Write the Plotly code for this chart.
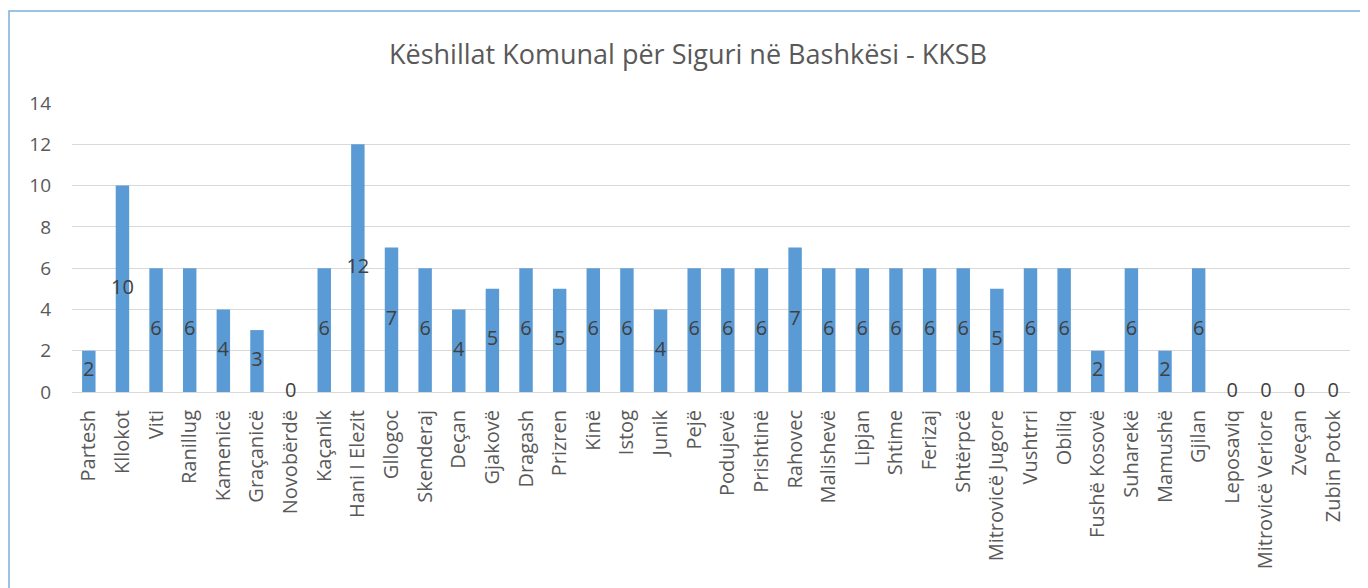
import plotly.graph_objects as go

categories = ["Partesh", "Kllokot", "Viti", "Ranillug", "Kamenicë", "Graçanicë", "Novobërdë",
              "Kaçanik", "Hani I Elezit", "Gllogoc", "Skenderaj", "Deçan", "Gjakovë", "Dragash",
              "Prizren", "Kinë", "Istog", "Junik", "Pejë", "Podujevë", "Prishtinë", "Rahovec",
              "Malishevë", "Lipjan", "Shtime", "Ferizaj", "Shtërpcë", "Mitrovicë Jugore",
              "Vushtrri", "Obiliq", "Fushë Kosovë", "Suharekë", "Mamushë", "Gjilan",
              "Leposaviq", "Mitrovicë Veriore", "Zveçan", "Zubin Potok"]
values = [2, 10, 6, 6, 4, 3, 0, 6, 12, 7, 6, 4, 5, 6, 5, 6, 6, 4, 6, 6, 6, 7,
          6, 6, 6, 6, 6, 5, 6, 6, 2, 6, 2, 6, 0, 0, 0, 0]
y_ticks = [0, 2, 4, 6, 8, 10, 12, 14]
title = "Këshillat Komunal për Siguri në Bashkësi - KKSB"

FONT = "Open Sans"
W, H = 1360, 580
L, R, T, B = 64, 18, 95, 196
PW, PH = W - L - R, H - T - B

fig = go.Figure()
fig.add_trace(go.Bar(x=categories, y=values, marker=dict(color="#5B9BD5", line=dict(width=0)),
                     hoverinfo="x+y", showlegend=False))
fig.add_trace(go.Scatter(x=categories, y=[v / 2 for v in values], mode="text",
                         text=[str(v) for v in values],
                         textfont=dict(family=FONT, size=20, color="#404040"),
                         textposition="middle center", showlegend=False, hoverinfo="skip",
                         cliponaxis=False))

fig.update_layout(
    width=W, height=H,
    margin=dict(l=L, r=R, t=T, b=B),
    paper_bgcolor="white", plot_bgcolor="white",
    bargap=0.6,
    title=dict(text=title, x=0.5, xanchor="center", y=1 - 47 / H, yanchor="middle",
               font=dict(family=FONT, size=27, color="#595959")),
    xaxis=dict(range=[-0.5, len(categories) - 0.5], tickangle=-90,
               tickfont=dict(family=FONT, size=20, color="#595959"),
               showgrid=False, showline=False, ticks="", automargin=False,
               ticklabelstandoff=13),
    yaxis=dict(range=[0, 14], tickvals=y_ticks, tickfont=dict(family=FONT, size=19, color="#595959"),
               showgrid=True, gridcolor="#D9D9D9", gridwidth=1, zeroline=True,
               zerolinecolor="#D9D9D9", zerolinewidth=1, showline=False, ticks="",
               ticklabelstandoff=20, automargin=False),
    shapes=[dict(type="rect", xref="paper", yref="paper",
                 x0=(1 - L) / PW, x1=(W + 20 - L) / PW,
                 y0=-(B + 20) / PH, y1=(H - 3 - B) / PH,
                 line=dict(color="#7FAEDC", width=1.5), fillcolor="rgba(0,0,0,0)", layer="below")],
)

fig.write_html("out.html")
